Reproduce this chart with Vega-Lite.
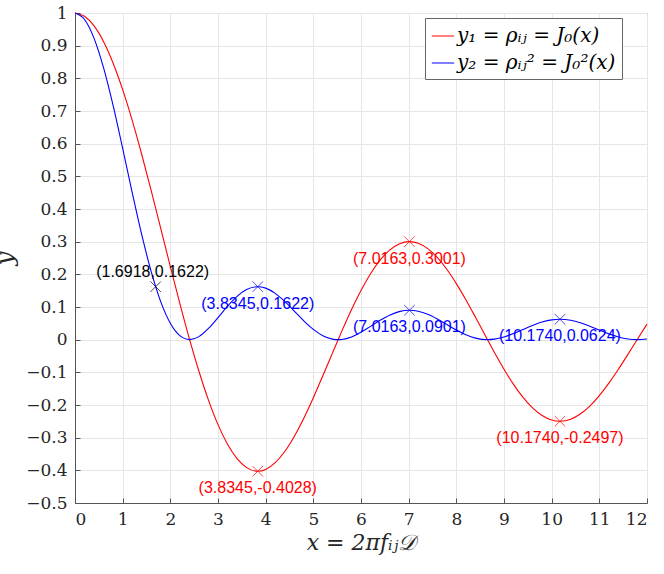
{
  "$schema": "https://vega.github.io/schema/vega-lite/v6.json",
  "width": 572,
  "height": 490,
  "autosize": {"type": "none"},
  "padding": {"left": 75, "top": 13, "right": 17, "bottom": 71},
  "background": "white",
  "view": {"stroke": "#555555", "strokeWidth": 1},
  "datasets": {
    "curves": [
      {"x": 0.0, "j0": 1.0, "j0sq": 1.0},
      {"x": 0.2, "j0": 0.99002, "j0sq": 0.98014},
      {"x": 0.4, "j0": 0.9604, "j0sq": 0.92237},
      {"x": 0.6, "j0": 0.912, "j0sq": 0.83174},
      {"x": 0.8, "j0": 0.84629, "j0sq": 0.71621},
      {"x": 1.0, "j0": 0.7652, "j0sq": 0.58553},
      {"x": 1.2, "j0": 0.67113, "j0sq": 0.45042},
      {"x": 1.4, "j0": 0.56686, "j0sq": 0.32133},
      {"x": 1.6, "j0": 0.4554, "j0sq": 0.20739},
      {"x": 1.8, "j0": 0.33999, "j0sq": 0.11559},
      {"x": 2.0, "j0": 0.22389, "j0sq": 0.05013},
      {"x": 2.2, "j0": 0.11036, "j0sq": 0.01218},
      {"x": 2.4048, "j0": 0.0, "j0sq": 0.0},
      {"x": 2.6, "j0": -0.0968, "j0sq": 0.00937},
      {"x": 2.8, "j0": -0.18504, "j0sq": 0.03424},
      {"x": 3.0, "j0": -0.26005, "j0sq": 0.06763},
      {"x": 3.2, "j0": -0.32019, "j0sq": 0.10252},
      {"x": 3.4, "j0": -0.3643, "j0sq": 0.13272},
      {"x": 3.6, "j0": -0.39177, "j0sq": 0.15348},
      {"x": 3.8317, "j0": -0.40276, "j0sq": 0.16222},
      {"x": 4.0, "j0": -0.39715, "j0sq": 0.15773},
      {"x": 4.2, "j0": -0.37656, "j0sq": 0.1418},
      {"x": 4.4, "j0": -0.34226, "j0sq": 0.11714},
      {"x": 4.6, "j0": -0.29614, "j0sq": 0.0877},
      {"x": 4.8, "j0": -0.24043, "j0sq": 0.05781},
      {"x": 5.0, "j0": -0.1776, "j0sq": 0.03154},
      {"x": 5.2, "j0": -0.11029, "j0sq": 0.01216},
      {"x": 5.4, "j0": -0.04121, "j0sq": 0.0017},
      {"x": 5.5201, "j0": 0.0, "j0sq": 0.0},
      {"x": 5.6, "j0": 0.02697, "j0sq": 0.00073},
      {"x": 5.8, "j0": 0.0917, "j0sq": 0.00841},
      {"x": 6.0, "j0": 0.15065, "j0sq": 0.0227},
      {"x": 6.2, "j0": 0.20175, "j0sq": 0.0407},
      {"x": 6.4, "j0": 0.24331, "j0sq": 0.0592},
      {"x": 6.6, "j0": 0.27404, "j0sq": 0.0751},
      {"x": 6.8, "j0": 0.2931, "j0sq": 0.08591},
      {"x": 7.0156, "j0": 0.30012, "j0sq": 0.09007},
      {"x": 7.2, "j0": 0.29507, "j0sq": 0.08707},
      {"x": 7.4, "j0": 0.2786, "j0sq": 0.07762},
      {"x": 7.6, "j0": 0.2516, "j0sq": 0.0633},
      {"x": 7.8, "j0": 0.21541, "j0sq": 0.0464},
      {"x": 8.0, "j0": 0.17165, "j0sq": 0.02946},
      {"x": 8.2, "j0": 0.12222, "j0sq": 0.01494},
      {"x": 8.4, "j0": 0.06916, "j0sq": 0.00478},
      {"x": 8.6537, "j0": 0.0, "j0sq": 0.0},
      {"x": 8.8, "j0": -0.03923, "j0sq": 0.00154},
      {"x": 9.0, "j0": -0.09033, "j0sq": 0.00816},
      {"x": 9.2, "j0": -0.13675, "j0sq": 0.0187},
      {"x": 9.4, "j0": -0.17677, "j0sq": 0.03125},
      {"x": 9.6, "j0": -0.20898, "j0sq": 0.04367},
      {"x": 9.8, "j0": -0.23227, "j0sq": 0.05395},
      {"x": 10.0, "j0": -0.24594, "j0sq": 0.06049},
      {"x": 10.1735, "j0": -0.2497, "j0sq": 0.06235},
      {"x": 10.4, "j0": -0.24337, "j0sq": 0.05923},
      {"x": 10.6, "j0": -0.22763, "j0sq": 0.05182},
      {"x": 10.8, "j0": -0.20318, "j0sq": 0.04128},
      {"x": 11.0, "j0": -0.17119, "j0sq": 0.02931},
      {"x": 11.2, "j0": -0.13304, "j0sq": 0.0177},
      {"x": 11.4, "j0": -0.09036, "j0sq": 0.00816},
      {"x": 11.6, "j0": -0.04492, "j0sq": 0.00202},
      {"x": 11.7915, "j0": 0.0, "j0sq": 0.0},
      {"x": 12.0, "j0": 0.04769, "j0sq": 0.00227}
    ],
    "points": [
      {"x": 1.6918, "y": 0.1622, "s": "pt", "label": "(1.6918,0.1622)"},
      {"x": 3.8345, "y": 0.1622, "s": "j0sq", "label": "(3.8345,0.1622)"},
      {"x": 7.0163, "y": 0.0901, "s": "j0sq", "label": "(7.0163,0.0901)"},
      {"x": 10.174, "y": 0.0624, "s": "j0sq", "label": "(10.1740,0.0624)"},
      {"x": 3.8345, "y": -0.4028, "s": "j0", "label": "(3.8345,-0.4028)"},
      {"x": 7.0163, "y": 0.3001, "s": "j0", "label": "(7.0163,0.3001)"},
      {"x": 10.174, "y": -0.2497, "s": "j0", "label": "(10.1740,-0.2497)"}
    ]
  },
  "encoding": {
    "x": {
      "field": "x",
      "type": "quantitative",
      "scale": {"domain": [0, 12], "nice": false, "zero": false},
      "axis": {
        "values": [0, 1, 2, 3, 4, 5, 6, 7, 8, 9, 10, 11, 12],
        "labelFont": "DejaVu Serif",
        "labelFontSize": 17,
        "labelOverlap": false,
        "title": "x = 2πfᵢⱼ𝒟",
        "titlePadding": 5
      }
    },
    "y": {
      "field": "y",
      "type": "quantitative",
      "scale": {"domain": [-0.5, 1], "nice": false, "zero": false},
      "axis": {
        "values": [-0.5, -0.4, -0.3, -0.2, -0.1, 0, 0.1, 0.2, 0.3, 0.4, 0.5, 0.6, 0.7, 0.8, 0.9, 1],
        "format": ".1~f",
        "labelFont": "DejaVu Serif",
        "labelFontSize": 17,
        "labelOverlap": false,
        "title": "y",
        "titleFontSize": 25,
        "titlePadding": 8
      }
    },
    "color": {
      "field": "s",
      "type": "nominal",
      "scale": {"domain": ["j0", "j0sq", "pt"], "range": ["#ff0000", "#0000ff", "#000000"]},
      "legend": null
    }
  },
  "layer": [
    {
      "data": {"name": "curves"},
      "transform": [{"fold": ["j0", "j0sq"], "as": ["s", "y"]}],
      "mark": {"type": "line", "interpolate": "monotone", "strokeWidth": 1.1},
      "encoding": {
        "color": {
          "field": "s",
          "type": "nominal",
          "legend": {
            "values": ["j0", "j0sq"],
            "labelExpr": "datum.value == 'j0' ? 'y₁ = ρᵢⱼ = J₀(x)' : 'y₂ = ρᵢⱼ² = J₀²(x)'",
            "title": null,
            "orient": "none",
            "legendX": 350,
            "legendY": 5,
            "symbolType": "stroke",
            "symbolSize": 500,
            "symbolStrokeWidth": 1,
            "labelFont": "DejaVu Serif",
            "labelFontStyle": "italic",
            "labelFontSize": 20,
            "labelColor": "#000000",
            "labelLimit": 300,
            "labelOffset": 2,
            "rowPadding": 5,
            "padding": 6,
            "fillColor": "white",
            "strokeColor": "#666666"
          }
        }
      }
    },
    {
      "data": {"name": "points"},
      "mark": {"type": "point", "shape": "M-1,-1L1,1M-1,1L1,-1", "size": 110, "strokeWidth": 1, "filled": false}
    },
    {
      "data": {"name": "points"},
      "transform": [{"filter": "datum.s != 'pt'"}],
      "mark": {"type": "text", "align": "center", "baseline": "top", "dy": 9, "font": "Liberation Sans", "fontSize": 16},
      "encoding": {
        "text": {"field": "label"}
      }
    },
    {
      "data": {"name": "points"},
      "transform": [{"filter": "datum.s == 'pt'"}],
      "mark": {"type": "text", "align": "center", "baseline": "alphabetic", "dx": -3, "dy": -10, "font": "Liberation Sans", "fontSize": 16},
      "encoding": {
        "text": {"field": "label"}
      }
    }
  ],
  "config": {
    "axis": {
      "grid": true,
      "gridColor": "#e6e6e6",
      "gridWidth": 1,
      "domainColor": "#555555",
      "tickColor": "#555555",
      "tickSize": -5,
      "labelFont": "DejaVu Serif",
      "labelColor": "#262626",
      "labelPadding": 13,
      "titleFont": "DejaVu Serif",
      "titleFontStyle": "italic",
      "titleFontWeight": "normal",
      "titleFontSize": 22,
      "titleColor": "#262626"
    }
  }
}
